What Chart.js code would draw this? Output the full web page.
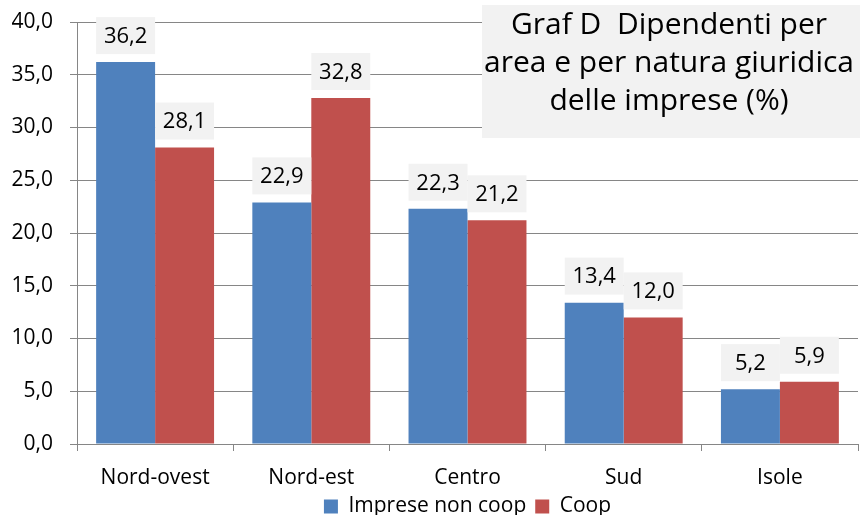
<!DOCTYPE html>
<html>
<head>
<meta charset="utf-8">
<script src="https://cdn.jsdelivr.net/npm/chart.js@4/dist/chart.umd.min.js"></script>
<style>
  html, body { margin: 0; padding: 0; background: #fff; }
  #wrap { width: 861px; height: 515px; }
</style>
</head>
<body>
<div id="wrap"><canvas id="c" width="861" height="515"></canvas></div>
<script>
const areas = ["Nord-ovest", "Nord-est", "Centro", "Sud", "Isole"];
const nonCoop = [36.2, 22.9, 22.3, 13.4, 5.2];
const coop = [28.1, 32.8, 21.2, 12.0, 5.9];
const titleLines = ["Graf D  Dipendenti per", "area e per natura giuridica", "delle imprese (%)"];

const FONT = "'Open Sans', 'Noto Sans', sans-serif";
const fmt = (v) => v.toFixed(1).replace(".", ",");

// etichette con sfondo grigio sopra le barre
const valueLabels = {
    id: "valueLabels",
    afterDatasetsDraw(chart) {
        const ctx = chart.ctx;
        ctx.save();
        ctx.font = "22px " + FONT;
        ctx.textAlign = "center";
        ctx.textBaseline = "middle";
        chart.data.datasets.forEach((ds, i) => {
            chart.getDatasetMeta(i).data.forEach((bar, j) => {
                const w = bar.width;
                const h = 37;
                const top = bar.y - 8 - h;
                ctx.fillStyle = "#F2F2F2";
                ctx.fillRect(bar.x - w / 2, top, w, h);
                ctx.fillStyle = "#000";
                ctx.fillText(fmt(ds.data[j]), bar.x, top + h / 2 + 1);
            });
        });
        ctx.restore();
    }
};

// riquadro del titolo in alto a destra
const titleBox = {
    id: "titleBox",
    afterDraw(chart) {
        const ctx = chart.ctx;
        ctx.save();
        ctx.fillStyle = "#F2F2F2";
        ctx.fillRect(482, 5, 378, 133);
        ctx.fillStyle = "#000";
        ctx.font = "30px " + FONT;
        ctx.textAlign = "center";
        ctx.textBaseline = "alphabetic";
        titleLines.forEach((t, i) => {
            ctx.fillText(t, 669, 34 + i * 38);
        });
        ctx.restore();
    }
};

new Chart(document.getElementById("c"), {
    type: "bar",
    data: {
        labels: areas,
        datasets: [
            { label: "Imprese non coop", data: nonCoop, backgroundColor: "#4F81BD" },
            { label: "Coop", data: coop, backgroundColor: "#C0504D" }
        ]
    },
    options: {
        responsive: false,
        animation: false,
        layout: { autoPadding: false, padding: { left: 12, right: 3, top: 22, bottom: -12 } },
        datasets: {
            bar: { barPercentage: 1, categoryPercentage: 0.755 }
        },
        plugins: {
            legend: {
                position: "bottom",
                fullSize: false,
                labels: {
                    font: { family: FONT, size: 21 },
                    color: "#000",
                    boxWidth: 14,
                    boxHeight: 14,
                    padding: 9
                }
            },
            tooltip: { enabled: false }
        },
        scales: {
            x: {
                grid: { drawOnChartArea: false, color: "#868686", tickLength: 7 },
                border: { color: "#868686" },
                ticks: { font: { family: FONT, size: 21 }, color: "#000", padding: 14 },
                afterFit(scale) { scale.height = 43; }
            },
            y: {
                min: 0,
                max: 40,
                grid: { color: "#868686", tickLength: 7 },
                border: { color: "#868686" },
                ticks: {
                    stepSize: 5,
                    font: { family: FONT, size: 21 },
                    color: "#000",
                    padding: 17,
                    callback: (v) => fmt(v)
                },
                afterFit(scale) {
                    scale.width = 65;
                    scale.paddingTop = 0;
                    scale.paddingBottom = 0;
                }
            }
        }
    },
    plugins: [valueLabels, titleBox]
});
</script>
</body>
</html>
